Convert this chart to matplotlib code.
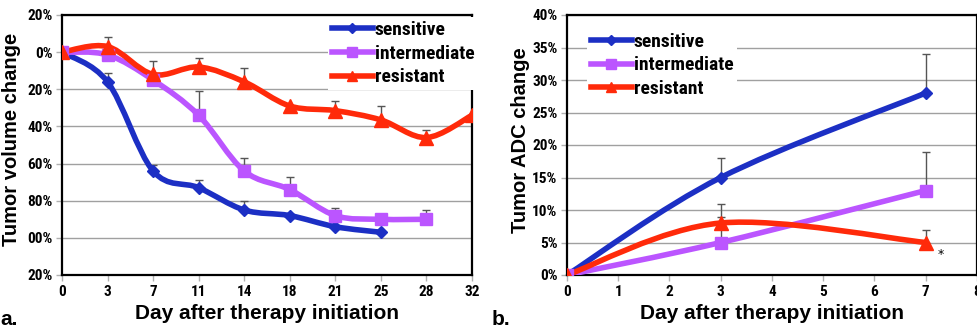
import matplotlib
matplotlib.use("Agg")
import matplotlib.pyplot as plt
from matplotlib import font_manager as fm
import numpy as np
from matplotlib.path import Path
from matplotlib.patches import PathPatch
from matplotlib.lines import Line2D

# ---- data: panel a (tumor volume reduction, %), x is categorical days
days_a = ["0", "3", "7", "11", "14", "18", "21", "25", "28", "32"]
sens_a = [0, 16, 64, 73, 85, 88, 94, 97]
inter_a = [0, 1.5, 15, 34, 64, 74, 88, 90, 90]
resist_a = [0, -3, 12, 8, 16, 29, 31.5, 36.5, 46, 34]
# error bars (only where visible): index -> size
sens_a_err = {1: 5, 2: 3, 3: 4, 4: 5}
inter_a_err = {3: 13, 4: 7, 5: 7, 6: 4, 7: 3, 8: 5}
resist_a_err = {1: 5, 2: 7, 3: 5, 4: 7.5, 6: 5, 7: 7.5, 8: 4}
ytick_a = [-20, 0, 20, 40, 60, 80, 100, 120]
ytick_a_labels = ["20%", "0%", "20%", "40%", "60%", "80%", "00%", "20%"]

# ---- data: panel b (tumor ADC change, %)
days_b = [0, 3, 7]
sens_b = [0, 15, 28]
inter_b = [0, 5, 13]
resist_b = [0, 8, 5]
sens_b_err = [0, 3, 6]
inter_b_err = [0, 4, 6]
resist_b_err = [0, 3, 2]

BLUE = "#1c2fc4"
VIOLET = "#bb55ff"
RED = "#ff2a0a"

# look for a narrow font, the original uses something like Arial Narrow
installed = {f.name for f in fm.fontManager.ttflist}
NARROW = None
for cand in ["Liberation Sans Narrow", "Arial Narrow", "Roboto Condensed",
             "Open Sans Condensed", "DejaVu Sans Condensed", "Noto Sans Condensed"]:
    if cand in installed:
        NARROW = cand
        break
if NARROW is None:
    for f in fm.fontManager.ttflist:
        if "Narrow" in f.name or "Condensed" in f.name:
            NARROW = f.name
            break
if NARROW is None:
    NARROW = "DejaVu Sans"
    TICK_FS, LEG_FS = 9, 11
else:
    TICK_FS, LEG_FS = 11, 14


def smooth_path(x, y):
    # excel-like smoothed line: cubic bezier through the points
    p = np.column_stack([x, y]).astype(float)
    verts = [p[0]]
    codes = [Path.MOVETO]
    n = len(p)
    for i in range(n - 1):
        p0 = p[i - 1] if i > 0 else p[i]
        p3 = p[i + 2] if i + 2 < n else p[i + 1]
        c1 = p[i] + (p[i + 1] - p0) / 6.0
        c2 = p[i + 1] - (p3 - p[i]) / 6.0
        verts += [c1, c2, p[i + 1]]
        codes += [Path.CURVE4] * 3
    return Path(verts, codes)


def draw_series(ax, x, y, color, marker, ms):
    ax.add_patch(PathPatch(smooth_path(x, y), fill=False, edgecolor=color,
                           lw=4, capstyle="round", joinstyle="round", zorder=3))
    ax.plot(x, y, ls="none", marker=marker, color=color, ms=ms, zorder=4)


def style_axes(ax):
    for s in ax.spines.values():
        s.set_linewidth(1.6)
        s.set_color("black")
    ax.yaxis.grid(True, color="#a0a0a0", lw=1)
    ax.set_axisbelow(True)
    ax.tick_params(axis="both", length=4, color="#b0b0b0", width=1, pad=3)
    for lab in ax.get_xticklabels() + ax.get_yticklabels():
        lab.set_family(NARROW)
        lab.set_fontweight("bold")
        lab.set_fontsize(TICK_FS)


fig = plt.figure(figsize=(9.78, 3.35), dpi=100)
axa = fig.add_axes([62 / 978, 60 / 335, 410 / 978, 260 / 335])
axb = fig.add_axes([567 / 978, 60 / 335, 410 / 978, 260 / 335])

# ---- panel a
xa = np.arange(len(days_a))
for vals, errs, color, marker, ms in [
        (sens_a, sens_a_err, BLUE, "D", 6),
        (inter_a, inter_a_err, VIOLET, "s", 9),
        (resist_a, resist_a_err, RED, "^", 10)]:
    idx = sorted(errs)
    axa.errorbar([xa[i] for i in idx], [vals[i] for i in idx],
                 yerr=[[errs[i] for i in idx], [0] * len(idx)],
                 fmt="none", ecolor="#555555", elinewidth=1, capsize=3, zorder=2)
    draw_series(axa, xa[:len(vals)], vals, color, marker, ms)

axa.set_xlim(0, 9)
axa.set_ylim(120, -20)
axa.set_xticks(xa)
axa.set_xticklabels(days_a)
axa.set_yticks(ytick_a)
axa.set_yticklabels(ytick_a_labels)
style_axes(axa)
axa.set_ylabel("Tumor volume change", fontsize=14.5, fontweight="bold",
               family="Liberation Sans")
axa.yaxis.set_label_coords(-0.1, 0.52)
axa.set_xlabel("Day after therapy initiation", fontsize=15, fontweight="bold",
               family="Liberation Sans", labelpad=4)

# ---- panel b
xb = np.array(days_b)
for vals, errs, color, marker, ms in [
        (sens_b, sens_b_err, BLUE, "D", 6),
        (inter_b, inter_b_err, VIOLET, "s", 9),
        (resist_b, resist_b_err, RED, "^", 10)]:
    axb.errorbar(xb[1:], vals[1:], yerr=[[0] * (len(vals) - 1), errs[1:]],
                 fmt="none", ecolor="#555555", elinewidth=1, capsize=3, zorder=2)
    draw_series(axb, xb, vals, color, marker, ms)

axb.set_xlim(0, 8)
axb.set_ylim(0, 40)
axb.set_xticks(range(0, 9))
axb.set_yticks(range(0, 41, 5))
axb.set_yticklabels([f"{v}%" for v in range(0, 41, 5)])
style_axes(axb)
axb.set_ylabel("Tumor ADC change", fontsize=14.5, fontweight="bold",
               family="Liberation Sans")
axb.yaxis.set_label_coords(-0.09, 0.52)
axb.set_xlabel("Day after therapy initiation", fontsize=15, fontweight="bold",
               family="Liberation Sans", labelpad=4)
axb.text(7.3, 3.2, "*", fontsize=9, ha="center", va="center")

# ---- legends
handles = [Line2D([], [], color=BLUE, lw=4, marker="D", ms=5),
           Line2D([], [], color=VIOLET, lw=4, marker="s", ms=7),
           Line2D([], [], color=RED, lw=4, marker="^", ms=7)]
names = ["sensitive", "intermediate", "resistant"]
for ax, anchor in [(axa, (0.625, 1.03)), (axb, (0.025, 0.985))]:
    leg = ax.legend(handles, names, loc="upper left", bbox_to_anchor=anchor,
                    prop={"family": NARROW, "weight": "bold", "size": LEG_FS},
                    handlelength=2.1, handletextpad=0.1, labelspacing=0.3,
                    borderpad=0.2, frameon=True, framealpha=1, edgecolor="none",
                    fancybox=False)
    leg.set_zorder(5)

fig.text(0.0, 0.03, "a.", fontsize=15, fontweight="bold", family="Liberation Sans")
fig.text(492 / 978, 0.03, "b.", fontsize=15, fontweight="bold", family="Liberation Sans")

fig.savefig("out.png", dpi=100)
